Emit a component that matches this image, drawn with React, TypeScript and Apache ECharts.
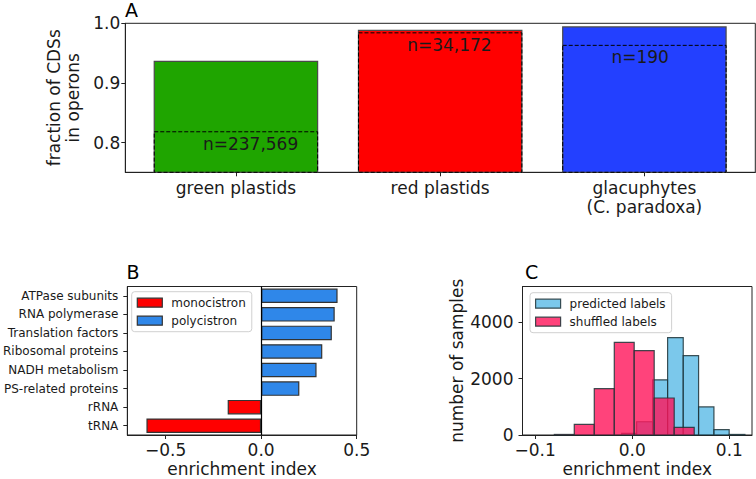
import React, { useEffect, useRef } from 'react';
import * as echarts from 'echarts';

// ---------- Panel A ----------
const groupCategories = ['green plastids', 'red plastids', 'glacuphytes\n(C. paradoxa)'];
const operonFraction = [0.936, 0.988, 0.994];
const subsetFraction = [0.818, 0.984, 0.963];
const sampleLabels = ['n=237,569', 'n=34,172', 'n=190'];
const groupColors = ['#1fa500', '#ff0000', '#2340ff'];
const fractionTicks = [0.8, 0.9, 1.0];
const groupTicks = [0, 1, 2];

// ---------- Panel B ----------
const functionCategories = [
  'ATPase subunits',
  'RNA polymerase',
  'Translation factors',
  'Ribosomal proteins',
  'NADH metabolism',
  'PS-related proteins',
  'rRNA',
  'tRNA',
];
const monocistronValues: (number | string)[] = ['-', '-', '-', '-', '-', '-', -0.175, -0.6];
const polycistronValues: (number | string)[] = [0.4, 0.385, 0.37, 0.32, 0.29, 0.2, '-', '-'];
const enrichmentTicks = [-0.5, 0, 0.5];

// ---------- Panel C ----------
const predictedBinEdges = [-0.0109, 0.0045, 0.021, 0.0364, 0.0525, 0.0683, 0.0841, 0.0998, 0.116];
const predictedCounts = [58, 470, 1955, 3450, 2810, 995, 190, 20];
const shuffledBinEdges = [-0.0802, -0.0597, -0.0391, -0.0185, 0.002, 0.0226, 0.0432, 0.0638];
const shuffledCounts = [20, 375, 1640, 3280, 2990, 1310, 270];
const histXTicks = [-0.1, 0, 0.1];
const histYTicks = [0, 2000, 4000];

const FONT = 'DejaVu Sans';
const TEXT = '#1a1a1a';
const LINE = { color: '#222', width: 1 };

const signed = (v: number) => (v < 0 ? '\u2212' : '') + Math.abs(v).toFixed(1);

const PRED_FILL = 'rgba(52,170,224,0.65)';
const SHUF_FILL = 'rgba(255,20,90,0.8)';
const HIST_EDGE = 'rgba(30,50,55,0.85)';

function histRender(fill: string) {
  return (params: any, api: any) => {
    const x0 = api.value(0);
    const x1 = api.value(1);
    const c = api.value(2);
    const tl = api.coord([x0, c]);
    const br = api.coord([x1, 0]);
    return {
      type: 'rect',
      shape: { x: tl[0], y: tl[1], width: br[0] - tl[0], height: br[1] - tl[1] },
      style: { fill, stroke: HIST_EDGE, lineWidth: 1.2 },
    };
  };
}

export default function App() {
  const ref = useRef<HTMLDivElement>(null);
  useEffect(() => {
    if (!ref.current) return;
    const chart = echarts.init(ref.current, null, { renderer: 'svg' });
    const yMinA = 0.75;
    const option: any = {
      animation: false,
      backgroundColor: '#fff',
      textStyle: { fontFamily: FONT },
      graphic: [
        { type: 'text', x: 125, y: 10, style: { text: 'A', fontSize: 19, fontFamily: FONT, fill: '#000', verticalAlign: 'middle', align: 'left' } },
        { type: 'text', x: 126.5, y: 272, style: { text: 'B', fontSize: 19, fontFamily: FONT, fill: '#000', verticalAlign: 'middle', align: 'left' } },
        { type: 'text', x: 525, y: 272, style: { text: 'C', fontSize: 19, fontFamily: FONT, fill: '#000', verticalAlign: 'middle', align: 'left' } },
      ],
      grid: [
        { left: 125.3, top: 23.3, width: 630, height: 149, show: true, borderColor: '#222', borderWidth: 1, containLabel: false },
        { left: 126, top: 286.5, width: 230.7, height: 148.5, show: true, borderColor: '#222', borderWidth: 1, containLabel: false },
        { left: 522.5, top: 286.5, width: 229.5, height: 148.5, show: true, borderColor: '#222', borderWidth: 1, containLabel: false },
      ],
      legend: [
        {
          left: 131.7, top: 291.7, orient: 'vertical', itemWidth: 25, itemHeight: 9, itemGap: 6,
          padding: [5, 6, 5, 5], borderColor: '#d0d0d0', borderWidth: 1, borderRadius: 3,
          backgroundColor: 'rgba(255,255,255,0.85)', selectedMode: false,
          textStyle: { fontSize: 12, color: TEXT, fontFamily: FONT, padding: [0, 0, 0, 4] },
          data: [
            { name: 'monocistron', icon: 'rect', itemStyle: { color: '#ff0000', borderColor: '#333', borderWidth: 1.2 } },
            { name: 'polycistron', icon: 'rect', itemStyle: { color: '#2f87e9', borderColor: '#333', borderWidth: 1.2 } },
          ],
        },
        {
          left: 530, top: 292.7, orient: 'vertical', itemWidth: 25, itemHeight: 9, itemGap: 6,
          padding: [5, 6, 5, 5], borderColor: '#d0d0d0', borderWidth: 1, borderRadius: 3,
          backgroundColor: 'rgba(255,255,255,0.85)', selectedMode: false,
          textStyle: { fontSize: 12, color: TEXT, fontFamily: FONT, padding: [0, 0, 0, 4] },
          data: [
            { name: 'predicted labels', icon: 'rect', itemStyle: { color: PRED_FILL, borderColor: HIST_EDGE, borderWidth: 1.2 } },
            { name: 'shuffled labels', icon: 'rect', itemStyle: { color: SHUF_FILL, borderColor: HIST_EDGE, borderWidth: 1.2 } },
          ],
        },
      ],
      xAxis: [
        {
          gridIndex: 0, type: 'value', min: -0.5417, max: 2.543,
          axisLine: { show: true, onZero: false, lineStyle: LINE },
          splitLine: { show: false },
          axisTick: { show: true, customValues: groupTicks, length: 4, lineStyle: LINE },
          axisLabel: {
            customValues: groupTicks, formatter: (v: number) => groupCategories[Math.round(v)],
            fontSize: 17, lineHeight: 19, color: TEXT, fontFamily: FONT, margin: 6,
          },
        },
        {
          gridIndex: 1, type: 'value', min: -0.7, max: 0.5,
          axisLine: { show: true, onZero: false, lineStyle: LINE },
          splitLine: { show: false },
          axisTick: { show: true, customValues: enrichmentTicks, length: 4, lineStyle: LINE },
          axisLabel: { customValues: enrichmentTicks, formatter: signed, fontSize: 17, color: TEXT, fontFamily: FONT, margin: 6 },
          name: 'enrichment index', nameLocation: 'middle', nameGap: 25,
          nameTextStyle: { fontSize: 17, color: TEXT, fontFamily: FONT },
        },
        {
          gridIndex: 2, type: 'value', min: -0.113, max: 0.1233,
          axisLine: { show: true, onZero: false, lineStyle: LINE },
          splitLine: { show: false },
          axisTick: { show: true, customValues: histXTicks, length: 4, lineStyle: LINE },
          axisLabel: { customValues: histXTicks, formatter: signed, fontSize: 17, color: TEXT, fontFamily: FONT, margin: 6 },
          name: 'enrichment index', nameLocation: 'middle', nameGap: 25,
          nameTextStyle: { fontSize: 17, color: TEXT, fontFamily: FONT },
        },
      ],
      yAxis: [
        {
          gridIndex: 0, type: 'value', min: yMinA, max: 1.0,
          axisLine: { show: true, onZero: false, lineStyle: LINE },
          splitLine: { show: false },
          axisTick: { show: true, customValues: fractionTicks, length: 4, lineStyle: LINE },
          axisLabel: { customValues: fractionTicks, formatter: (v: number) => v.toFixed(1), fontSize: 17, color: TEXT, fontFamily: FONT, margin: 5 },
          name: 'fraction of CDSs\nin operons', nameLocation: 'middle', nameGap: 36,
          nameTextStyle: { fontSize: 17, lineHeight: 19, color: TEXT, fontFamily: FONT },
        },
        {
          gridIndex: 1, type: 'category', data: functionCategories, inverse: true,
          axisLine: { show: true, onZero: false, lineStyle: LINE },
          axisTick: { show: true, alignWithLabel: true, length: 4, lineStyle: LINE },
          axisLabel: { fontSize: 12, color: TEXT, fontFamily: FONT, margin: 9 },
          splitLine: { show: false },
        },
        {
          gridIndex: 2, type: 'value', min: 0, max: 5260,
          axisLine: { show: true, onZero: false, lineStyle: LINE },
          splitLine: { show: false },
          axisTick: { show: true, customValues: histYTicks, length: 4, lineStyle: LINE },
          axisLabel: { customValues: histYTicks, formatter: (v: number) => String(v), fontSize: 17, color: TEXT, fontFamily: FONT, margin: 9 },
          name: 'number of samples', nameLocation: 'middle', nameGap: 57,
          nameTextStyle: { fontSize: 17, color: TEXT, fontFamily: FONT },
        },
      ],
      series: [
        // Panel A solid bars
        {
          type: 'custom', name: 'fraction', xAxisIndex: 0, yAxisIndex: 0,
          data: operonFraction.map((v, i) => [groupTicks[i], v]),
          encode: { x: 0, y: 1 },
          renderItem: (params: any, api: any) => {
            const i = params.dataIndex;
            const x = api.value(0);
            const v = api.value(1);
            const tl = api.coord([x - 0.4, v]);
            const br = api.coord([x + 0.4, yMinA]);
            return {
              type: 'rect',
              shape: { x: tl[0], y: tl[1], width: br[0] - tl[0], height: br[1] - tl[1] },
              style: { fill: groupColors[i], stroke: '#4a4a4a', lineWidth: 1.2 },
            };
          },
        },
        // Panel A dashed overlay + n labels
        {
          type: 'custom', name: 'subset', xAxisIndex: 0, yAxisIndex: 0,
          data: subsetFraction.map((v, i) => [groupTicks[i], v]),
          encode: { x: 0, y: 1 },
          renderItem: (params: any, api: any) => {
            const i = params.dataIndex;
            const x = api.value(0);
            const v = api.value(1);
            const tl = api.coord([x - 0.4, v]);
            const br = api.coord([x + 0.4, yMinA]);
            const c = api.coord([x, v]);
            return {
              type: 'group',
              children: [
                {
                  type: 'rect',
                  shape: { x: tl[0], y: tl[1], width: br[0] - tl[0], height: br[1] - tl[1] },
                  style: { fill: 'none', stroke: '#000', lineWidth: 1, lineDash: [4, 2] },
                },
                {
                  type: 'text',
                  x: c[0] - 33,
                  y: c[1] + 12,
                  style: {
                    text: sampleLabels[i], fontSize: 17, fontFamily: FONT, fill: TEXT,
                    align: 'left', verticalAlign: 'middle',
                  },
                },
              ],
            };
          },
        },
        // Panel B
        {
          type: 'bar', name: 'monocistron', xAxisIndex: 1, yAxisIndex: 1, stack: 'enr',
          data: monocistronValues, barWidth: '78%',
          itemStyle: { color: '#ff0000', borderColor: '#333', borderWidth: 1.2 },
          markLine: {
            silent: true, symbol: 'none', label: { show: false },
            lineStyle: { color: '#000', width: 1.2, type: 'solid' },
            data: [{ xAxis: 0 }],
          },
        },
        {
          type: 'bar', name: 'polycistron', xAxisIndex: 1, yAxisIndex: 1, stack: 'enr',
          data: polycistronValues, barWidth: '78%',
          itemStyle: { color: '#2f87e9', borderColor: '#333', borderWidth: 1.2 },
        },
        // Panel C
        {
          type: 'custom', name: 'predicted labels', xAxisIndex: 2, yAxisIndex: 2,
          data: predictedCounts.map((c, i) => [predictedBinEdges[i], predictedBinEdges[i + 1], c]),
          encode: { x: [0, 1], y: 2 },
          renderItem: histRender(PRED_FILL),
          itemStyle: { color: PRED_FILL },
        },
        {
          type: 'custom', name: 'shuffled labels', xAxisIndex: 2, yAxisIndex: 2,
          data: shuffledCounts.map((c, i) => [shuffledBinEdges[i], shuffledBinEdges[i + 1], c]),
          encode: { x: [0, 1], y: 2 },
          renderItem: histRender(SHUF_FILL),
          itemStyle: { color: SHUF_FILL },
        },
      ],
    };
    chart.setOption(option);
    return () => chart.dispose();
  }, []);
  return (
    <div
      ref={ref}
      style={{ position: 'fixed', left: 0, top: 0, width: 756, height: 479, background: '#fff' }}
    />
  );
}
